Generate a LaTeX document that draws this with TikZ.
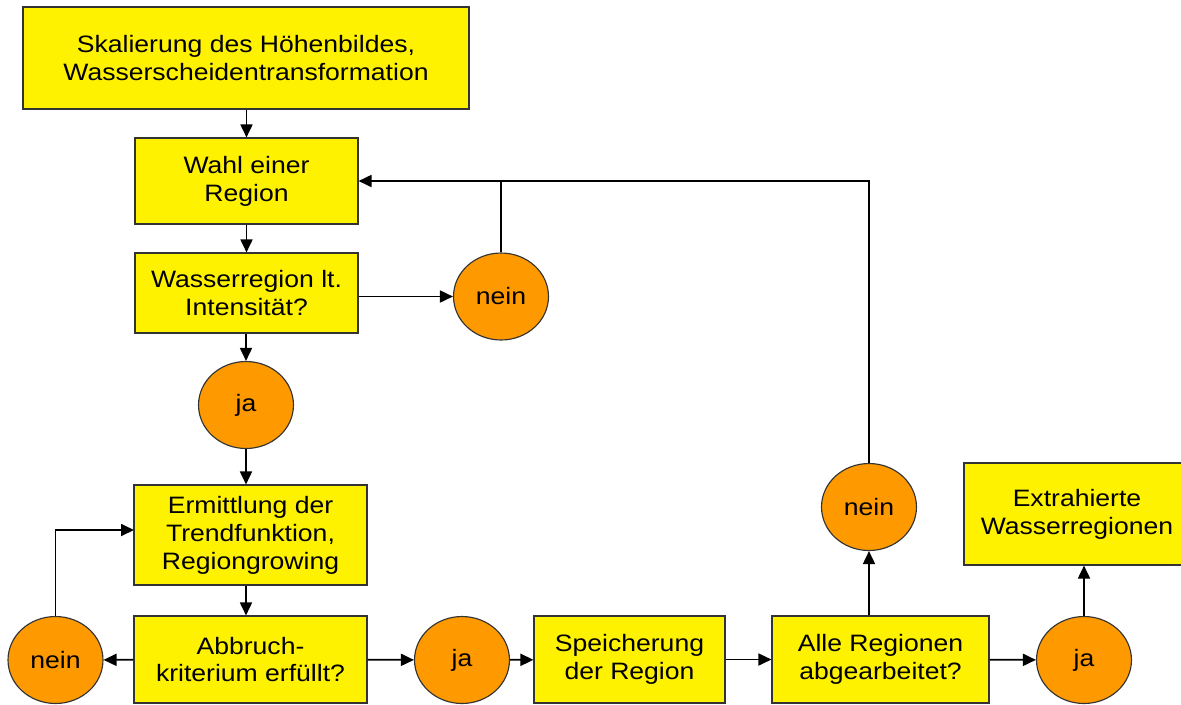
\documentclass[tikz,border=0pt]{standalone}
\usepackage{fontspec}
\setmainfont{Liberation Sans}[FakeStretch=1.12]
\usetikzlibrary{arrows.meta,shapes.geometric}
\definecolor{kreisorange}{HTML}{FF9900}

\begin{document}
\begin{tikzpicture}[x=0.02cm,y=-0.02cm,
  >={Triangle[length=0.26cm,width=0.24cm]},
  kasten/.style={draw=black!80,fill=yellow,line width=0.65pt,inner sep=0pt,align=center,
    font=\fontsize{13.5}{15.9}\selectfont},
  kreis/.style={ellipse,draw=black!80,fill=kreisorange,line width=0.65pt,inner sep=0pt,
    minimum width=1.9cm,minimum height=1.74cm,font=\fontsize{13.5}{15.9}\selectfont},
  pfeil/.style={->,line width=1pt},
  linie/.style={line width=1pt}]
\useasboundingbox (0,0) rectangle (1181,704);

% Kaesten
\node[kasten,minimum width=8.92cm,minimum height=2.04cm] (skal) at (246,58) {Skalierung des Höhenbildes,\\Wasserscheidentransformation};
\node[kasten,minimum width=4.46cm,minimum height=1.72cm] (wahl) at (246.5,181) {Wahl einer\\Region};
\node[kasten,minimum width=4.46cm,minimum height=1.60cm] (wasser) at (246.5,293) {Wasserregion lt.\\Intensität?};
\node[kasten,minimum width=4.66cm,minimum height=2.00cm] (trend) at (250.5,535) {Ermittlung der\\Trendfunktion,\\Regiongrowing};
\node[kasten,minimum width=4.66cm,minimum height=1.74cm] (abbruch) at (250.5,659.5) {Abbruch-\\kriterium erfüllt?};
\node[kasten,minimum width=3.82cm,minimum height=1.74cm] (speicher) at (629.5,659.5) {Speicherung\\der Region};
\node[kasten,minimum width=4.34cm,minimum height=1.74cm] (alle) at (880.5,659.5) {Alle Regionen\\abgearbeitet?};
\node[kasten,minimum width=4.52cm,minimum height=2.04cm] (extra) at (1077,514) {Extrahierte\\Wasserregionen};

% Kreise
\node[kreis] (neinA) at (501,296.5) {nein};
\node[kreis] (jaA) at (246,405) {ja};
\node[kreis] (neinB) at (55.5,660) {nein};
\node[kreis] (jaB) at (462,660) {ja};
\node[kreis] (neinC) at (869,507) {nein};
\node[kreis] (jaC) at (1084,660) {ja};

\coordinate (trendein) at (134,530);

% Verbindungen
\draw[pfeil] (skal.south -| wahl) -- (wahl.north);
\draw[pfeil] (wahl) -- (wasser);
\draw[pfeil] (wasser.east |- neinA) -- (neinA);
\draw[pfeil] (wasser.south -| jaA) -- (jaA);
\draw[pfeil] (jaA) -- (jaA |- trend.north);
\draw[pfeil] (trend.south -| jaA) -- (abbruch.north -| jaA);
\draw[pfeil] (abbruch) -- (neinB);
\draw[pfeil] (neinB) -- (neinB |- trendein) -- (trendein);
\draw[pfeil] (abbruch) -- (jaB);
\draw[pfeil] (jaB) -- (speicher);
\draw[pfeil] (speicher) -- (alle);
\draw[pfeil] (alle) -- (jaC);
\draw[pfeil] (jaC) -- (jaC |- extra.south);
\draw[pfeil] (alle.north -| neinC) -- (neinC);
\draw[pfeil] (neinC) -- (neinC |- wahl.east) -- (wahl.east);
\draw[linie] (neinA) -- (neinA |- wahl.east);
\end{tikzpicture}
\end{document}
